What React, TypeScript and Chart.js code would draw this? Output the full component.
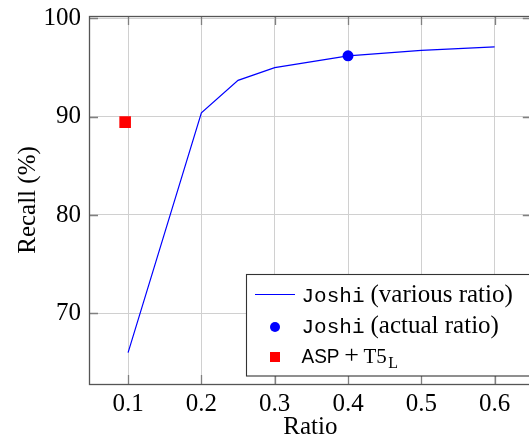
import React, { useEffect, useRef } from "react";
import { Chart, registerables } from "chart.js";

Chart.register(...registerables);

// ---- data ----
const ratios = [0.1, 0.2, 0.25, 0.3, 0.4, 0.5, 0.6];
const recallVarious = [66.0, 90.4, 93.7, 95.0, 96.2, 96.75, 97.1];
const actualRatio = [0.4];
const actualRecall = [96.2];
const aspRatio = [0.096];
const aspRecall = [89.45];
const xTicks = [0.1, 0.2, 0.3, 0.4, 0.5, 0.6];
const yTicks = [70, 80, 90, 100];
const xRange = [0.0467, 0.6507];
const yRange = [62.8, 100.25];

const SERIF = "'Liberation Serif', 'DejaVu Serif', serif";
const MONO = "'Liberation Mono', 'DejaVu Sans Mono', monospace";
const SANS = "'Liberation Sans', 'DejaVu Sans', sans-serif";

const framePlugin = {
  id: "frameAndLegend",
  afterDraw(chart: any) {
    const { ctx, chartArea } = chart;
    const { left, right, top, bottom } = chartArea;
    const xs = chart.scales.x;
    const ys = chart.scales.y;
    ctx.save();
    // inward ticks
    ctx.strokeStyle = "#808080";
    ctx.lineWidth = 1.3;
    const tl = 9;
    xTicks.forEach((v) => {
      const px = Math.round(xs.getPixelForValue(v)) + 0.5;
      ctx.beginPath();
      ctx.moveTo(px, bottom);
      ctx.lineTo(px, bottom - tl);
      ctx.moveTo(px, top);
      ctx.lineTo(px, top + tl);
      ctx.stroke();
    });
    yTicks.forEach((v) => {
      const py = Math.round(ys.getPixelForValue(v)) + 0.5;
      ctx.beginPath();
      ctx.moveTo(left, py);
      ctx.lineTo(left + tl, py);
      ctx.moveTo(right, py);
      ctx.lineTo(right - tl, py);
      ctx.stroke();
    });
    // frame
    ctx.strokeStyle = "#555555";
    ctx.lineWidth = 1.3;
    ctx.strokeRect(Math.round(left) + 0.5, Math.round(top) + 0.5, Math.round(right - left), Math.round(bottom - top));

    // legend
    const bx = 246.5;
    const by = 274.5;
    ctx.fillStyle = "#ffffff";
    ctx.fillRect(bx, by, 400, 101.5);
    ctx.strokeStyle = "#333333";
    ctx.lineWidth = 1.1;
    ctx.strokeRect(bx, by, 400, 101.5);

    // row 1 marker: line
    ctx.strokeStyle = "#0000ff";
    ctx.lineWidth = 1.1;
    ctx.beginPath();
    ctx.moveTo(255, 294.5);
    ctx.lineTo(295, 294.5);
    ctx.stroke();
    // row 2 marker: dot
    ctx.fillStyle = "#0000ff";
    ctx.beginPath();
    ctx.arc(275, 327, 5, 0, Math.PI * 2);
    ctx.fill();
    // row 3 marker: square
    ctx.fillStyle = "#ff0000";
    ctx.fillRect(270, 352, 10, 10);

    const tx = 301.5;
    ctx.fillStyle = "#000000";
    ctx.textBaseline = "alphabetic";
    ctx.textAlign = "left";

    const rows = [
      { y: 302, rest: "(various ratio)" },
      { y: 333, rest: "(actual ratio)" },
    ];
    rows.forEach((r) => {
      ctx.font = `21px ${MONO}`;
      ctx.fillText("Joshi", tx, r.y);
      const w = ctx.measureText("Joshi").width;
      ctx.font = `25px ${SERIF}`;
      ctx.fillText(r.rest, tx + w + 6, r.y);
    });

    // row 3: ASP + T5_L
    ctx.font = `21px ${SANS}`;
    ctx.fillText("ASP", tx, 363, 38);
    ctx.font = `26px ${SERIF}`;
    ctx.textAlign = "center";
    ctx.fillText("+", 351.5, 362.5);
    ctx.textAlign = "left";
    ctx.font = `21px ${SERIF}`;
    ctx.fillText("T5", 363.5, 363);
    const w5 = ctx.measureText("T5").width;
    ctx.font = `16px ${SERIF}`;
    ctx.fillText("L", 363.5 + w5 + 1.5, 368);

    ctx.restore();
  },
};

export default function App() {
  const ref = useRef<HTMLCanvasElement>(null);

  useEffect(() => {
    document.body.style.overflow = "hidden";
    const canvas = ref.current;
    if (!canvas) return;
    const zeroPad = (s: any) => {
      s.paddingTop = 0;
      s.paddingBottom = 0;
      s.paddingLeft = 0;
      s.paddingRight = 0;
    };
    const chart = new Chart(canvas, {
      type: "scatter",
      data: {
        datasets: [
          {
            label: "Joshi (various ratio)",
            data: ratios.map((x, i) => ({ x, y: recallVarious[i] })),
            showLine: true,
            borderColor: "#0000ff",
            borderWidth: 1.2,
            pointRadius: 0,
            fill: false,
            tension: 0,
          },
          {
            label: "Joshi (actual ratio)",
            data: actualRatio.map((x, i) => ({ x, y: actualRecall[i] })),
            pointRadius: 5.5,
            pointBackgroundColor: "#0000ff",
            pointBorderWidth: 0,
            borderColor: "#0000ff",
          },
          {
            label: "ASP + T5L",
            data: aspRatio.map((x, i) => ({ x, y: aspRecall[i] })),
            pointStyle: "rect",
            pointRadius: 8.2,
            pointBackgroundColor: "#ff0000",
            pointBorderWidth: 0,
            borderColor: "#ff0000",
          },
        ],
      },
      options: {
        animation: false,
        responsive: false,
        events: [],
        layout: { padding: { left: 0, right: 6, top: 16, bottom: 0 } },
        plugins: {
          legend: { display: false },
          tooltip: { enabled: false },
        },
        scales: {
          x: {
            type: "linear",
            min: xRange[0],
            max: xRange[1],
            afterBuildTicks: (s: any) => {
              s.ticks = xTicks.map((v) => ({ value: v }));
            },
            afterFit: (s: any) => {
              s.height = 55;
              zeroPad(s);
            },
            grid: { color: "#d0d0d0", lineWidth: 1, drawTicks: false },
            border: { display: false },
            ticks: {
              color: "#000000",
              padding: 5,
              font: { family: SERIF, size: 25, lineHeight: 1.2 },
              callback: (v: any) => Number(v).toFixed(1),
              maxRotation: 0,
              autoSkip: false,
            },
            title: {
              display: true,
              text: "Ratio",
              color: "#000000",
              font: { family: SERIF, size: 25, lineHeight: 1 },
              padding: { top: 0, bottom: -1 },
            },
          },
          y: {
            type: "linear",
            min: yRange[0],
            max: yRange[1],
            afterBuildTicks: (s: any) => {
              s.ticks = yTicks.map((v) => ({ value: v }));
            },
            afterFit: (s: any) => {
              s.width = 89;
              zeroPad(s);
            },
            grid: { color: "#d0d0d0", lineWidth: 1, drawTicks: false },
            border: { display: false },
            ticks: {
              color: "#000000",
              padding: 8,
              font: { family: SERIF, size: 25, lineHeight: 1.2 },
              callback: (v: any) => String(v),
              autoSkip: false,
            },
            title: {
              display: true,
              text: "Recall (%)",
              color: "#000000",
              font: { family: SERIF, size: 25, lineHeight: 1 },
              padding: { top: 16, bottom: 0 },
            },
          },
        },
      },
      plugins: [framePlugin],
    });
    return () => chart.destroy();
  }, []);

  return (
    <div style={{ position: "fixed", left: 0, top: 0, width: 540, height: 439 }}>
      <canvas ref={ref} width={540} height={439} style={{ display: "block" }} />
    </div>
  );
}
